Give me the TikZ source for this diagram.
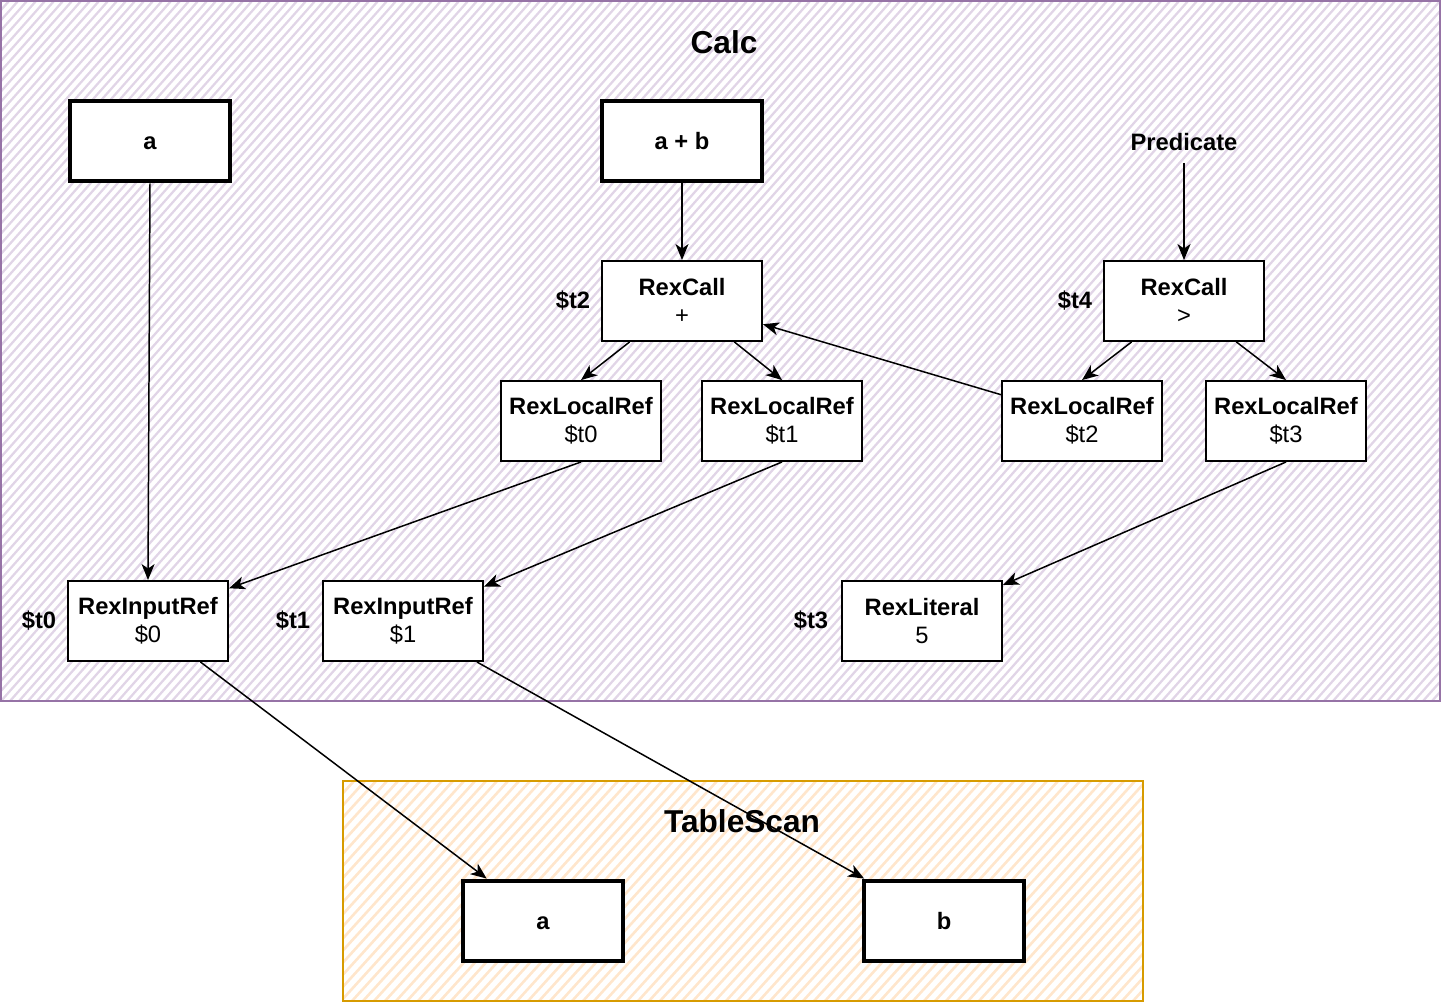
\documentclass[tikz,border=0pt]{standalone}
\usepackage{fontspec}
\setmainfont{Liberation Sans}
\usetikzlibrary{arrows.meta}

\definecolor{calcline}{HTML}{9673A6}
\definecolor{calchatch}{HTML}{E1D5E7}
\definecolor{scanline}{HTML}{D79B00}
\definecolor{scanhatch}{HTML}{FFE6CC}

\begin{document}
\begin{tikzpicture}[x=0.02cm, y=-0.02cm,
        rexbox/.style={draw, fill=white, line width=1.1pt,
            minimum width=3.2cm, minimum height=1.6cm, align=center,
            font=\fontsize{13.5}{16}\selectfont},
        colbox/.style={rexbox, line width=2.8pt, text height=9.7pt,
            text depth=0pt, font=\fontsize{13.5}{16}\selectfont\bfseries},
        tmplabel/.style={font=\fontsize{13.5}{16}\selectfont\bfseries},
        frametitle/.style={font=\fontsize{18}{22}\selectfont\bfseries},
        arr/.style={-{Stealth[length=0.32cm, width=0.26cm, inset=0.09cm]},
            line width=0.85pt},
        hatch/.style={line width=1.3pt}]
    \useasboundingbox (0, 0) rectangle (1442, 1002);

    % Calc frame
    \begin{scope}
        \clip (1, 1) rectangle (1440, 701);
        \foreach \i in {0,9,...,2150}
            \draw[hatch, calchatch] (\i - 620, 701) -- (\i, 1);
    \end{scope}
    \draw[calcline, line width=1.1pt] (1, 1) rectangle (1440, 701);
    \node[frametitle] (calc) at (724, 42) {Calc};

    % TableScan frame
    \begin{scope}
        \clip (343, 781) rectangle (1143, 1001);
        \foreach \i in {343,354,...,1370}
            \draw[hatch, scanhatch, line width=1.5pt] (\i - 200, 1001) -- (\i, 781);
    \end{scope}
    \draw[scanline, line width=1.1pt] (343, 781) rectangle (1143, 1001);
    \node[frametitle] (scan) at (742, 821) {TableScan};

    % output columns
    \node[colbox] (outa) at (150, 141) {a};
    \node[colbox] (outab) at (682, 141) {a + b};
    \node[tmplabel] (pred) at (1184, 142) {Predicate};

    % calls
    \node[rexbox] (callplus) at (682, 301) {\textbf{RexCall}\\+};
    \node[tmplabel] (tplus) at (573, 301) {\$t2};
    \node[rexbox] (callgt) at (1184, 301) {\textbf{RexCall}\\>};
    \node[tmplabel] (tgt) at (1075, 301) {\$t4};

    % local refs
    \node[rexbox] (loczero) at (581, 421) {\textbf{RexLocalRef}\\\$t0};
    \node[rexbox] (locone) at (782, 421) {\textbf{RexLocalRef}\\\$t1};
    \node[rexbox] (loctwo) at (1082, 421) {\textbf{RexLocalRef}\\\$t2};
    \node[rexbox] (locthree) at (1286, 421) {\textbf{RexLocalRef}\\\$t3};

    % inputs and literal
    \node[rexbox] (inzero) at (148, 621) {\textbf{RexInputRef}\\\$0};
    \node[tmplabel] (tzero) at (39, 621) {\$t0};
    \node[rexbox] (inone) at (403, 621) {\textbf{RexInputRef}\\\$1};
    \node[tmplabel] (tone) at (293, 621) {\$t1};
    \node[rexbox] (literal) at (922, 621) {\textbf{RexLiteral}\\5};
    \node[tmplabel] (tthree) at (811, 621) {\$t3};

    % scanned columns
    \node[colbox] (scana) at (543, 921) {a};
    \node[colbox] (scanb) at (944, 921) {b};

    % connectors
    \draw[arr] (outa.south) -- (inzero.north);
    \draw[arr] (outab.south) -- (callplus.north);
    \draw[arr] (pred.south) ++(0, 6) -- (callgt.north);
    \draw[arr] (callplus.-142) -- (loczero.north);
    \draw[arr] (callplus.-38) -- (locone.north);
    \draw[arr] (loctwo.162) -- (callplus.-16);
    \draw[arr] (callgt.-142) -- (loctwo.north);
    \draw[arr] (callgt.-38) -- (locthree.north);
    \draw[arr] (loczero.south) -- (inzero.22);
    \draw[arr] (locone.south) -- (inone.23);
    \draw[arr] (locthree.south) -- (literal.24);
    \draw[arr] (inzero.-38) -- (scana.143);
    \draw[arr] (inone.-29) -- (scanb.152);
\end{tikzpicture}
\end{document}
